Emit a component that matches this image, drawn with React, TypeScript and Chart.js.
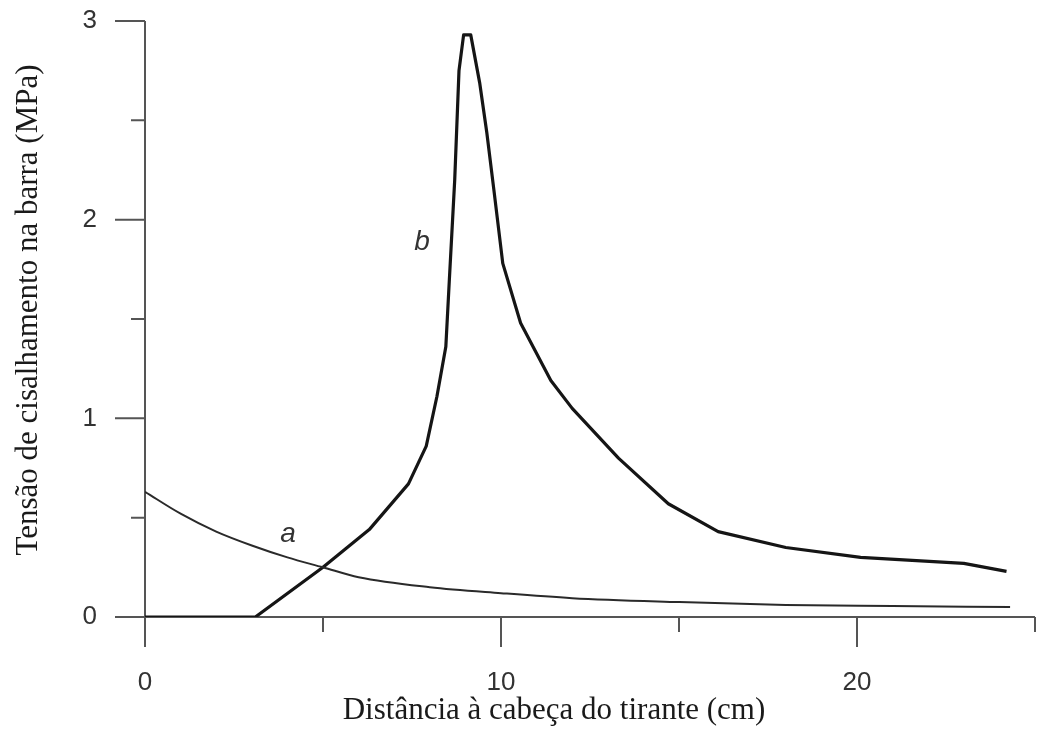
import React, { useEffect, useRef } from "react";
import { Chart, registerables } from "chart.js";

Chart.register(...registerables);

// Curve a (thin line)
const curveAX = [0, 1, 2, 3, 4, 5, 6, 8, 10, 12, 15, 18, 21, 24.3];
const curveAY = [0.63, 0.52, 0.43, 0.36, 0.3, 0.25, 0.2, 0.15, 0.12, 0.095, 0.075, 0.06, 0.055, 0.05];

// Curve b (thick line)
const curveBX = [0, 3.1, 5.0, 6.3, 7.4, 7.9, 8.2, 8.45, 8.55, 8.7, 8.82, 8.95, 9.15, 9.4, 9.6, 9.8, 10.05, 10.55, 11.4, 12.0, 13.3, 14.7, 16.1, 18.0, 20.1, 23.0, 24.2];
const curveBY = [0, 0, 0.25, 0.44, 0.67, 0.86, 1.11, 1.36, 1.7, 2.2, 2.75, 2.93, 2.93, 2.69, 2.44, 2.15, 1.78, 1.48, 1.19, 1.05, 0.8, 0.57, 0.43, 0.35, 0.3, 0.27, 0.23];

// Axis ticks
const xTickValues = [0, 5, 10, 15, 20, 25];
const xLabeledTicks = [0, 10, 20];
const yTickValues = [0, 0.5, 1, 1.5, 2, 2.5, 3];
const yLabeledTicks = [0, 1, 2, 3];

// Curve names placed on the chart
const curveNames = ["a", "b"];
const curveNameX = [4.02, 7.78];
const curveNameY = [0.377, 1.847];

const xTitle = "Distância à cabeça do tirante (cm)";
const yTitle = "Tensão de cisalhamento na barra (MPa)";

const axesPlugin = {
  id: "customAxes",
  beforeDatasetsDraw(chart: any) {
    const ctx = chart.ctx;
    const xs = chart.scales.x;
    const ys = chart.scales.y;
    const x0 = xs.getPixelForValue(0);
    const y0 = ys.getPixelForValue(0);
    ctx.save();
    ctx.strokeStyle = "#555";
    ctx.lineWidth = 2;
    ctx.lineCap = "butt";
    ctx.beginPath();
    ctx.moveTo(x0, ys.getPixelForValue(3));
    ctx.lineTo(x0, y0);
    ctx.moveTo(x0, y0);
    ctx.lineTo(xs.getPixelForValue(25), y0);
    for (const v of xTickValues) {
      const px = xs.getPixelForValue(v);
      const len = v % 10 === 0 ? 30 : 15;
      ctx.moveTo(px, y0);
      ctx.lineTo(px, y0 + len);
    }
    for (const v of yTickValues) {
      const py = ys.getPixelForValue(v);
      const len = Number.isInteger(v) ? 30 : 14;
      ctx.moveTo(x0 - len, py);
      ctx.lineTo(x0, py);
    }
    ctx.stroke();
    ctx.restore();
  },
  afterDraw(chart: any) {
    const ctx = chart.ctx;
    const xs = chart.scales.x;
    const ys = chart.scales.y;
    ctx.save();
    ctx.fillStyle = "#333";
    ctx.font = "italic 28px 'Liberation Sans', Arial, sans-serif";
    ctx.textAlign = "center";
    ctx.textBaseline = "alphabetic";
    curveNames.forEach((n, i) => {
      ctx.fillText(n, xs.getPixelForValue(curveNameX[i]), ys.getPixelForValue(curveNameY[i]));
    });
    ctx.fillStyle = "#1a1a1a";
    ctx.font = "31px 'Liberation Serif', 'Times New Roman', serif";
    ctx.textAlign = "center";
    ctx.fillText(xTitle, 554, 719);
    ctx.translate(37, 310);
    ctx.rotate(-Math.PI / 2);
    ctx.fillText(yTitle, 0, 0);
    ctx.restore();
  },
};

export default function App() {
  const canvasRef = useRef<HTMLCanvasElement | null>(null);

  useEffect(() => {
    const canvas = canvasRef.current;
    if (!canvas) return;
    const chart = new Chart(canvas, {
      type: "line",
      data: {
        datasets: [
          {
            label: "a",
            data: curveAX.map((x, i) => ({ x, y: curveAY[i] })),
            borderColor: "#2a2a2a",
            borderWidth: 2,
            pointRadius: 0,
            cubicInterpolationMode: "monotone",
            fill: false,
          },
          {
            label: "b",
            data: curveBX.map((x, i) => ({ x, y: curveBY[i] })),
            borderColor: "#151515",
            borderWidth: 3.2,
            pointRadius: 0,
            tension: 0,
            fill: false,
            borderJoinStyle: "round",
          },
        ],
      },
      options: {
        responsive: false,
        animation: false,
        layout: { padding: { top: 21, right: 2, left: 0, bottom: 0 } },
        plugins: {
          legend: { display: false },
          tooltip: { enabled: false },
        },
        scales: {
          x: {
            type: "linear",
            min: 0,
            max: 25,
            grid: { display: false, drawTicks: false },
            border: { display: false },
            afterFit: (s: any) => {
              s.height = 120;
              s.paddingLeft = 0;
              s.paddingRight = 0;
            },
            afterBuildTicks: (s: any) => {
              s.ticks = xLabeledTicks.map((v) => ({ value: v }));
            },
            ticks: {
              padding: 50,
              color: "#333",
              font: { family: "'Liberation Sans', Arial, sans-serif", size: 26 },
              maxRotation: 0,
              callback: (v: any) => String(v),
            },
          },
          y: {
            type: "linear",
            min: 0,
            max: 3,
            grid: { display: false, drawTicks: false },
            border: { display: false },
            afterFit: (s: any) => {
              s.width = 145;
              s.paddingTop = 0;
              s.paddingBottom = 0;
            },
            afterBuildTicks: (s: any) => {
              s.ticks = yLabeledTicks.map((v) => ({ value: v }));
            },
            ticks: {
              padding: 48,
              color: "#333",
              font: { family: "'Liberation Sans', Arial, sans-serif", size: 26 },
              callback: (v: any) => String(v),
            },
          },
        },
      },
      plugins: [axesPlugin],
    } as any);
    return () => chart.destroy();
  }, []);

  return (
    <div style={{ position: "fixed", left: 0, top: 0, width: 1037, height: 737, background: "#fff" }}>
      <canvas ref={canvasRef} width={1037} height={737} style={{ display: "block" }} />
    </div>
  );
}
